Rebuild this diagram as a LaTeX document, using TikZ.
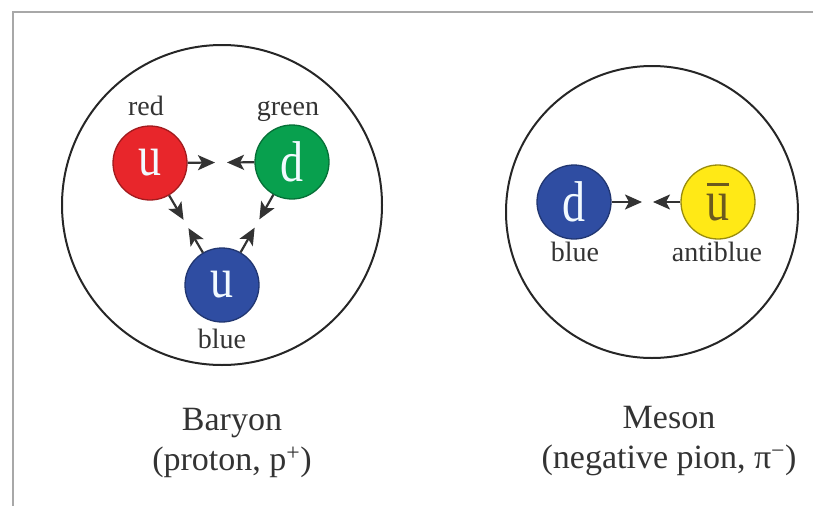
\documentclass[tikz,border=0pt]{standalone}
\usepackage{fontspec}
\setmainfont{Liberation Serif}
\usetikzlibrary{arrows.meta,calc}
\definecolor{qred}{HTML}{E8262B}
\definecolor{qgreen}{HTML}{08A04E}
\definecolor{qblue}{HTML}{2F4DA2}
\definecolor{qyellow}{HTML}{FFE916}
\definecolor{qolive}{HTML}{6B5A1E}
\definecolor{qwhite}{HTML}{F2FAFF}
\definecolor{framegray}{HTML}{A8A8A8}
\definecolor{inkgray}{HTML}{333333}
\newcommand{\qletter}[1]{\scalebox{1}[1.25]{#1}}
\newcommand{\antiu}{\makebox[0pt][l]{\hspace{0.01em}\rule[0.6em]{0.48em}{0.045em}}u}
\begin{document}
\begin{tikzpicture}[x=1pt,y=-1pt,
  quark/.style={circle, minimum size=74pt, inner sep=0pt, line width=1.3pt,
    font=\fontsize{46}{46}\selectfont},
  bigc/.style={circle, draw=black!85, line width=2pt, inner sep=0pt},
  lbl/.style={font=\fontsize{28}{28}\selectfont, text=inkgray, anchor=base, inner sep=0pt},
  ttl/.style={font=\fontsize{34}{40}\selectfont, align=center, text=inkgray, anchor=base, inner sep=0pt},
  qarrow/.style={draw=inkgray, line width=2.2pt, -{Stealth[length=17pt,width=15pt,inset=4pt]}}
]
\useasboundingbox (0,0) rectangle (813,506);
\draw[framegray, line width=2pt] (813,12) -- (13,12) -- (13,506);

% baryon
\node[bigc, minimum size=320pt] (bary) at (222,205) {};
\node[quark, fill=qred, draw=qred!70!black, text=qwhite] (r) at (150,163) {\qletter{u}};
\node[quark, fill=qgreen, draw=qgreen!70!black, text=qwhite] (g) at (292,162) {\qletter{d}};
\node[quark, fill=qblue, draw=qblue!70!black, text=qwhite] (b) at (222,285) {\qletter{u}};
\node[lbl] (lr) at (146,115) {red};
\node[lbl] (lg) at (288,115) {green};
\node[lbl] (lb) at (222,348) {blue};
\draw[qarrow] (r) -- ($(r.center)!65pt!(g.center)$);
\draw[qarrow] (g) -- ($(g.center)!65pt!(r.center)$);
\draw[qarrow] (r) -- ($(r.center)!66pt!(b.center)$);
\draw[qarrow] (b) -- ($(b.center)!66pt!(r.center)$);
\draw[qarrow] (g) -- ($(g.center)!66pt!(b.center)$);
\draw[qarrow] (b) -- ($(b.center)!66pt!(g.center)$);
\node[ttl] (tb) at (232,470) {Baryon\\(proton, p\textsuperscript{+})};

% meson
\node[bigc, minimum size=292pt] (meso) at (652,212) {};
\node[quark, fill=qblue, draw=qblue!70!black, text=qwhite] (d) at (574,202) {\qletter{d}};
\node[quark, fill=qyellow, draw=qyellow!60!black, text=qolive] (ub) at (718,202) {\qletter{\antiu}};
\node[lbl] (ld) at (575,261) {blue};
\node[lbl] (lu) at (717,261) {antiblue};
\draw[qarrow] (d) -- ($(d.center)!68pt!(ub.center)$);
\draw[qarrow] (ub) -- ($(ub.center)!65pt!(d.center)$);
\node[ttl] (tm) at (669,468) {Meson\\(negative pion, π\textsuperscript{−})};
\end{tikzpicture}
\end{document}
